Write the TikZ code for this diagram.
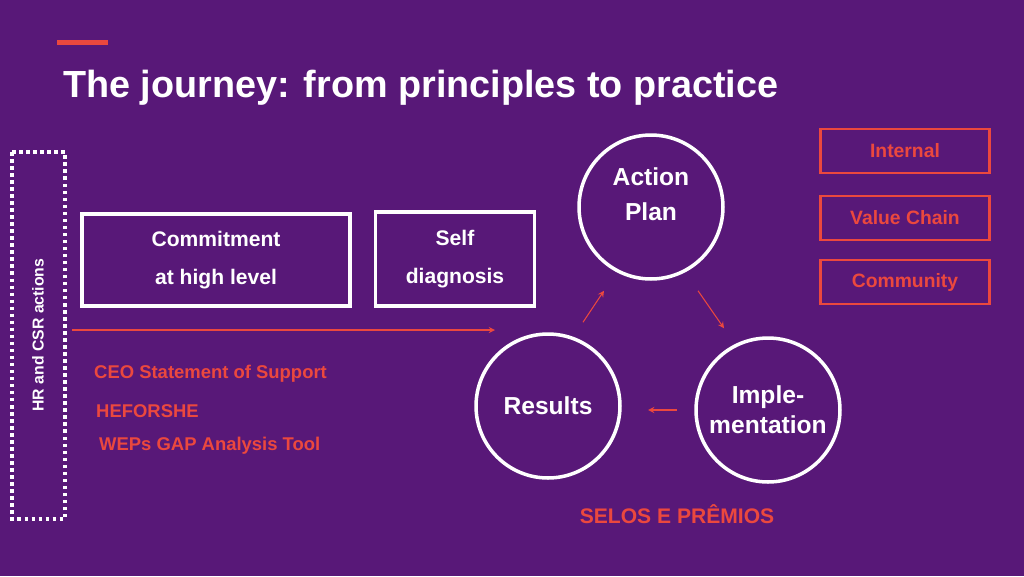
\documentclass[tikz,border=0pt]{standalone}
\usepackage{fontspec}
\setmainfont{Liberation Sans}
\definecolor{bgpurple}{RGB}{88,24,120}
\definecolor{accent}{RGB}{235,72,62}
\tikzset{
  whitebox/.style={draw=white, line width=2pt},
  redbox/.style={draw=accent, line width=1.5pt, minimum width=3.38cm, minimum height=0.88cm, text=accent, font=\bfseries\fontsize{11}{13}\selectfont},
  stagecircle/.style={circle, draw=white, line width=2pt, minimum size=2.88cm, text=white, align=center, font=\bfseries\fontsize{14}{20}\selectfont},
  redtext/.style={text=accent, font=\bfseries\fontsize{10.5}{13}\selectfont, anchor=west},
  flow/.style={->, >=stealth, accent, line width=0.6pt}
}
\begin{document}
\begin{tikzpicture}[x=0.02cm, y=-0.02cm]
  % fond
  \fill[bgpurple] (0,0) rectangle (1024,576);
  \useasboundingbox (0,0) rectangle (1024,576);
  % titre
  \fill[accent] (57,40) rectangle (108,45);
  \node[anchor=west, text=white, font=\bfseries\fontsize{21.5}{25}\selectfont] (title) at (57,88) {The journey: from principles to practice};
  % actions RH et RSE
  \draw[white, line width=2pt, dotted] (12,152) rectangle (65,519);
  \node[rotate=90, text=white, font=\bfseries\fontsize{9}{11}\selectfont] (hr) at (38,335) {HR and CSR actions};
  \node[whitebox, minimum width=5.36cm, minimum height=1.84cm, text=white, align=center, font=\bfseries\fontsize{12}{22}\selectfont] (commit) at (216,260) {Commitment\\at high level};
  \node[whitebox, minimum width=3.18cm, minimum height=1.88cm, text=white, align=center, font=\bfseries\fontsize{12}{22}\selectfont] (self) at (455,259) {Self\\diagnosis};
  \coordinate (arrowstart) at (72,330);
  \coordinate (arrowend) at (495,330);
  \draw[flow] (arrowstart) -- (arrowend);
  \node[redtext] (ceo) at (88,374) {CEO Statement of Support};
  \node[redtext] (hfs) at (90,411) {HEFORSHE};
  \node[redtext] (weps) at (93,446) {WEPs GAP Analysis Tool};
  % le cycle
  \node[stagecircle] (plan) at (651,207) {};
  \node[text=white, align=center, font=\bfseries\fontsize{14}{20}\selectfont] (plantext) at (651,194) {Action\\Plan};
  \node[stagecircle] (results) at (548,406) {Results};
  \node[stagecircle, font=\bfseries\fontsize{14}{17}\selectfont] (impl) at (768,410) {Imple-\\mentation};
  \draw[flow] ([shift={(35,-10)}]results.north) -- ([shift={(-47,10)}]plan.south);
  \draw[flow] ([shift={(47,10)}]plan.south) -- ([shift={(-44,-8)}]impl.north);
  \draw[flow] ([xshift=-10]impl.west) -- ([xshift=15]results.east |- impl.west);
  % niveaux
  \node[redbox] (internal) at (905,151) {Internal};
  \node[redbox] (chain) at (905,218) {Value Chain};
  \node[redbox] (community) at (905,282) {Community};
  \node[text=accent, font=\bfseries\fontsize{12}{14}\selectfont] (selos) at (677,514) {SELOS E PRÊMIOS};
\end{tikzpicture}
\end{document}
